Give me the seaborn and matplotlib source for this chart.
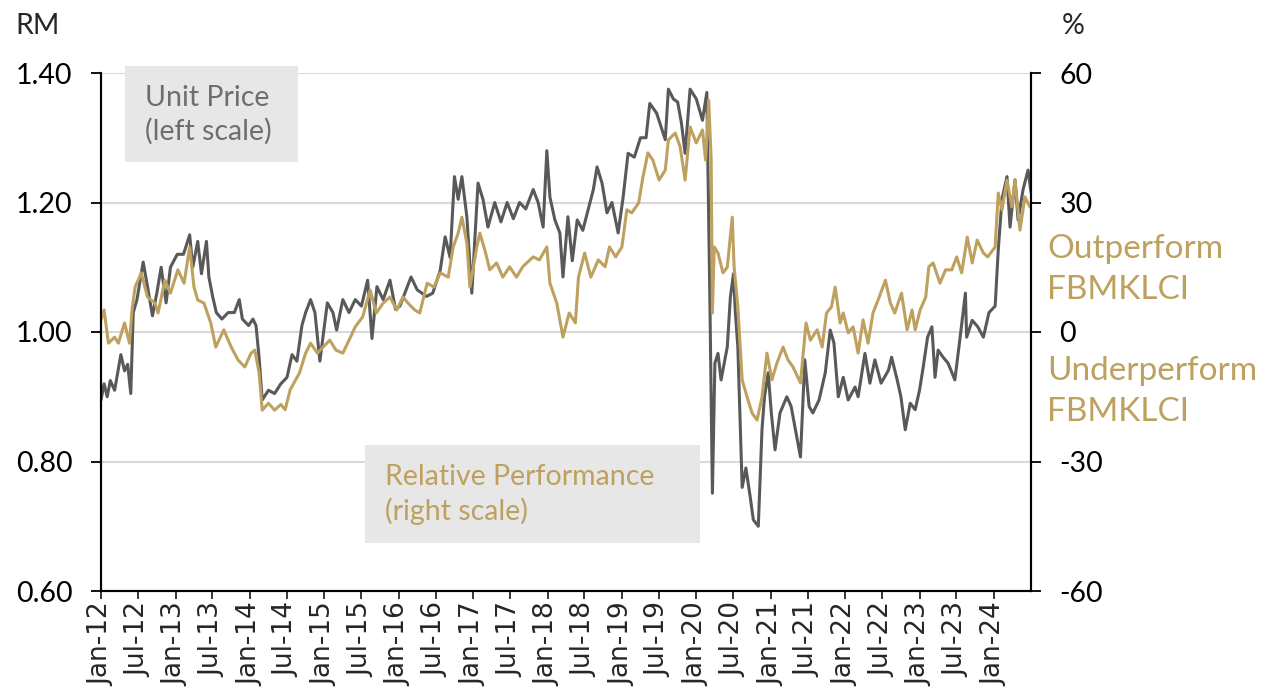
import pandas as pd
import matplotlib
matplotlib.use('Agg')
import matplotlib.pyplot as plt
from matplotlib.patches import Rectangle
import seaborn as sns
import numpy as np

sns.set_style('white')
plt.rcParams['font.family'] = ['Lato', 'DejaVu Sans']

# Unit price (RM, left scale) - months since Jan-2012, value
price_month = [0, 0.5, 1, 1.5, 2.2, 3.2, 3.8, 4.3, 4.8, 5.2, 5.8, 6.8, 7.5, 8.3, 9.0, 9.7,
               10.5, 11.2, 12.3, 13.3, 14.3, 14.8, 15.6, 16.2, 17.0, 17.4, 18.0, 18.6, 19.5,
               20.5, 21.5, 22.3, 22.8, 23.8, 24.5, 25.0, 25.5, 26, 27, 28, 29, 30, 30.8, 31.6,
               32.4, 33, 33.8, 34.5, 35.3, 36.5, 37.4, 38, 39, 40, 41, 42, 43, 43.7, 44.5,
               45.5, 46.6, 47.5, 48.2, 49, 50, 51, 52.5, 53.5, 54.7, 55.5, 56.3, 57, 57.6,
               58.2, 59, 59.8, 60.8, 61.6, 62.4, 63.5, 64.5, 65.5, 66.5, 67.5, 68.5, 69.7,
               70.5, 71.3, 71.9, 72.4, 73.2, 74.0, 74.5, 75.3, 76, 76.8, 77.7, 78.6, 79.4, 80,
               80.8, 81.6, 82.4, 83.4, 84.2, 85, 86, 87, 87.9, 88.5, 89.6, 91, 91.5, 92.3, 93,
               93.6, 94.2, 95, 96, 97, 97.7, 98.2, 98.6, 99, 99.5, 100, 101, 101.5, 102, 102.3,
               102.7, 103.4, 104, 104.7, 105.2, 106, 106.6, 107, 107.6, 108.1, 108.7, 109.5,
               110.6, 111.3, 112.2, 112.8, 113.5, 114.2, 114.8, 115.8, 116.8, 117.6, 118.2,
               118.9, 119.7, 120.5, 121.6, 122.1, 123.2, 124, 124.8, 125.8, 127, 127.5, 128.4,
               129, 129.7, 130.5, 131.3, 132, 132.6, 133.3, 134, 134.5, 135, 135.8, 136.6,
               137.7, 138.5, 139.4, 139.6, 140.5, 141.4, 142.3, 143.2, 144.2, 144.7, 145.3,
               146.1, 146.6, 147.4, 147.9, 148.7, 149.5, 150]
price_val = [0.895, 0.92, 0.90, 0.925, 0.91, 0.965, 0.94, 0.95, 0.905, 1.03, 1.05, 1.108,
             1.07, 1.025, 1.06, 1.10, 1.045, 1.10, 1.12, 1.12, 1.15, 1.10, 1.14, 1.09, 1.14,
             1.085, 1.055, 1.03, 1.02, 1.03, 1.03, 1.05, 1.02, 1.01, 1.02, 1.01, 0.96, 0.895,
             0.91, 0.905, 0.92, 0.93, 0.965, 0.955, 1.01, 1.03, 1.05, 1.03, 0.955, 1.045,
             1.03, 1.003, 1.05, 1.03, 1.05, 1.04, 1.08, 0.99, 1.07, 1.05, 1.08, 1.035, 1.04,
             1.06, 1.085, 1.065, 1.055, 1.06, 1.095, 1.147, 1.115, 1.24, 1.205, 1.24, 1.178,
             1.06, 1.23, 1.205, 1.162, 1.20, 1.17, 1.20, 1.175, 1.20, 1.19, 1.22, 1.20, 1.162,
             1.28, 1.208, 1.173, 1.153, 1.085, 1.178, 1.11, 1.173, 1.157, 1.19, 1.22, 1.255,
             1.23, 1.184, 1.20, 1.153, 1.208, 1.276, 1.27, 1.30, 1.30, 1.353, 1.338, 1.297,
             1.375, 1.36, 1.355, 1.323, 1.276, 1.375, 1.36, 1.327, 1.37, 1.045, 0.751, 0.952,
             0.967, 0.926, 0.977, 1.054, 1.09, 1.03, 0.977, 0.76, 0.79, 0.745, 0.71, 0.70,
             0.85, 0.90, 0.937, 0.875, 0.818, 0.875, 0.90, 0.885, 0.838, 0.807, 0.957, 0.885,
             0.875, 0.895, 0.937, 1.003, 0.983, 0.90, 0.93, 0.895, 0.915, 0.90, 0.967, 0.921,
             0.957, 0.921, 0.941, 0.961, 0.926, 0.90, 0.849, 0.89, 0.88, 0.91, 0.946, 0.992,
             1.008, 0.93, 0.972, 0.961, 0.952, 0.926, 0.988, 1.06, 0.992, 1.018, 1.008, 0.992,
             1.03, 1.04, 1.127, 1.205, 1.24, 1.162, 1.235, 1.173, 1.22, 1.25, 1.215]

# Relative performance vs FBMKLCI (%, right scale)
rel_month = [0, 0.5, 1.2, 2.2, 2.8, 3.8, 4.6, 5.0, 5.5, 6.5, 7.5, 8.7, 9.2, 10.3, 11.2, 12.4,
             13.4, 14.3, 15.0, 15.6, 16.6, 17.7, 18.5, 19.8, 21, 22.1, 23.2, 24.2, 24.8, 25.5,
             26, 27, 28, 29, 29.7, 30.5, 32, 33, 33.8, 34.9, 35.8, 36.9, 37.9, 39, 40, 41,
             42.2, 43.4, 44.4, 45.5, 46.6, 47.7, 48.7, 49.5, 50.6, 51.4, 52.6, 53.7, 54.7, 56,
             56.8, 57.6, 58.2, 59, 59.5, 60.6, 61.1, 61.9, 62.7, 63.8, 64.8, 65.9, 67, 68,
             69.7, 70.7, 71.9, 72.4, 73.5, 74.5, 75.5, 76.5, 77, 78, 79, 80.2, 81.3, 82, 83,
             84, 84.8, 85.6, 86.7, 87.4, 88.2, 89, 90, 91, 91.5, 92.6, 93.4, 94.2, 95, 96, 97,
             97.5, 98, 98.4, 98.6, 98.9, 99.5, 100.3, 101, 101.8, 102.1, 102.7, 103.4, 104.2,
             105, 105.8, 106.6, 107.4, 108.2, 109, 110, 110.8, 111.6, 112.8, 113.7, 114.4,
             115.5, 116.3, 117, 117.8, 118.4, 119.2, 119.7, 120.5, 121.3, 122.1, 122.9, 123.7,
             124.5, 125.5, 126.5, 127.3, 128, 129.1, 130, 130.8, 131.3, 132.1, 133, 133.5,
             134.2, 135.3, 136.2, 137.2, 138, 138.8, 139.7, 140.5, 141.3, 142.3, 143, 144.2,
             144.7, 145.3, 146.1, 146.9, 147.4, 148.2, 149, 149.8]
rel_val = [2.8, 5.1, -2.6, -1.2, -2.6, 2.1, -2.6, 5.1, 10.4, 13.7, 8.1, 6.7, 4.4, 12.0, 9.0,
           14.4, 11.3, 19.7, 10.4, 7.4, 6.7, 2.1, -3.5, 0.5, -3.5, -6.5, -8.1, -4.9, -4.2,
           -9.5, -18.1, -16.5, -18.1, -16.8, -18.0, -13.4, -9.5, -4.9, -2.6, -4.9, -3.5,
           -1.9, -4.2, -4.9, -1.9, 1.2, 3.5, 9.7, 4.4, 6.7, 8.1, 5.1, 8.1, 6.7, 5.1, 4.4,
           11.3, 10.4, 13.7, 12.7, 19.7, 22.9, 26.6, 20.6, 10.4, 19.7, 22.9, 19.0, 14.4,
           16.0, 12.7, 15.1, 12.7, 15.1, 17.4, 16.7, 19.7, 11.3, 6.7, -1.2, 4.4, 2.1, 12.7,
           18.3, 12.7, 16.7, 15.1, 19.7, 17.4, 19.7, 28.3, 27.6, 29.9, 35.9, 41.5, 39.8,
           35.2, 37.5, 44.5, 46.1, 42.9, 35.2, 47.5, 43.8, 46.8, 39.8, 53.7, 40.0, 4.4, 19.7,
           18.3, 13.7, 15.0, 26.6, 15.1, 5.8, -11.1, -15.1, -18.8, -20.4, -15.1, -4.9,
           -11.1, -7.2, -3.5, -6.5, -8.1, -11.8, 2.1, -1.9, 0.5, -3.5, 4.4, 5.8, 10.4, 2.1,
           4.4, -0.2, 1.2, -4.9, 2.8, -2.6, 4.4, 8.1, 12.0, 6.7, 4.4, 9.0, 0.5, 5.1, 0.5,
           5.1, 8.1, 15.1, 16.0, 11.3, 14.4, 14.4, 17.4, 13.7, 22.0, 16.0, 21.3, 18.3, 17.4,
           19.7, 32.2, 28.3, 35.2, 29.0, 35.2, 23.6, 31.3, 29.0]

left_ticks = [0.60, 0.80, 1.00, 1.20, 1.40]
right_ticks = [-60, -30, 0, 30, 60]
x_ticks = pd.date_range('2012-01-01', '2024-01-01', freq='6MS')

GREY = '#595959'
GOLD = '#BEA05F'
W, H = 1266, 696

start = pd.Timestamp('2012-01-01')


def to_dates(months):
    return start + pd.to_timedelta(np.array(months) * 30.4375, unit='D')


price_df = pd.DataFrame({'date': to_dates(price_month), 'price': price_val})
rel_df = pd.DataFrame({'date': to_dates(rel_month), 'rel': rel_val})

fig = plt.figure(figsize=(W / 100, H / 100), dpi=100)
ax = fig.add_axes([101 / W, 1 - 591 / H, (1031 - 101) / W, (591 - 73) / H])
ax2 = ax.twinx()

sns.lineplot(data=price_df, x='date', y='price', ax=ax, color=GREY, lw=2.2)
sns.lineplot(data=rel_df, x='date', y='rel', ax=ax2, color=GOLD, lw=2.2)

ax.set_xlim(start, pd.Timestamp('2024-07-01'))
ax.set_ylim(0.6, 1.4)
ax2.set_ylim(-60, 60)
ax.set_yticks(left_ticks)
ax.set_yticklabels([f'{t:.2f}' for t in left_ticks])
ax2.set_yticks(right_ticks)
ax2.set_yticklabels([str(t) for t in right_ticks])

ax.set_xticks(x_ticks)
ax.set_xticklabels([d.strftime('%b-%y') for d in x_ticks], rotation=90,
                   family='DejaVu Sans', fontsize=19)

ax.set_xlabel('')
ax.set_ylabel('')
ax2.set_ylabel('')

ax.yaxis.grid(True, color='#D9D9D9', lw=1.5)
ax.set_axisbelow(True)

for a in (ax, ax2):
    a.spines['top'].set_visible(False)
    for s in ('left', 'right', 'bottom'):
        a.spines[s].set_color('black')
        a.spines[s].set_linewidth(1.5)

ax.tick_params(axis='y', direction='out', length=7.5, width=1.3, labelsize=20.5,
               pad=13, left=True, colors='black')
ax2.tick_params(axis='y', direction='out', length=7.5, width=1.3, labelsize=20.5,
                pad=13, right=True, colors='black')
ax.tick_params(axis='x', direction='out', length=6, width=1.3, pad=2, bottom=True)

# axis unit labels
fig.text(15 / W, 1 - 26 / H, 'RM', fontsize=20.5, va='center', ha='left')
fig.text(1062 / W, 1 - 26 / H, '%', fontsize=20.5, va='center', ha='left')

# annotation boxes
def box(x0, y0, x1, y1, text, color):
    fig.add_artist(Rectangle((x0 / W, 1 - y1 / H), (x1 - x0) / W, (y1 - y0) / H,
                             transform=fig.transFigure, facecolor='#E7E7E7',
                             edgecolor='none'))
    fig.text((x0 + 20) / W, 1 - (y0 + 19) / H, text, fontsize=20.5, color=color,
             va='top', ha='left', linespacing=1.32)


box(125, 66, 298, 162, 'Unit Price\n(left scale)', '#6E6E6E')
box(365, 445, 700, 543, 'Relative Performance\n(right scale)', GOLD)

fig.text(1047 / W, 1 - 234 / H, 'Outperform\nFBMKLCI', fontsize=24, color=GOLD,
         va='top', ha='left', linespacing=1.45)
fig.text(1047 / W, 1 - 356 / H, 'Underperform\nFBMKLCI', fontsize=24, color=GOLD,
         va='top', ha='left', linespacing=1.45)

fig.savefig('out.png', dpi=100)
